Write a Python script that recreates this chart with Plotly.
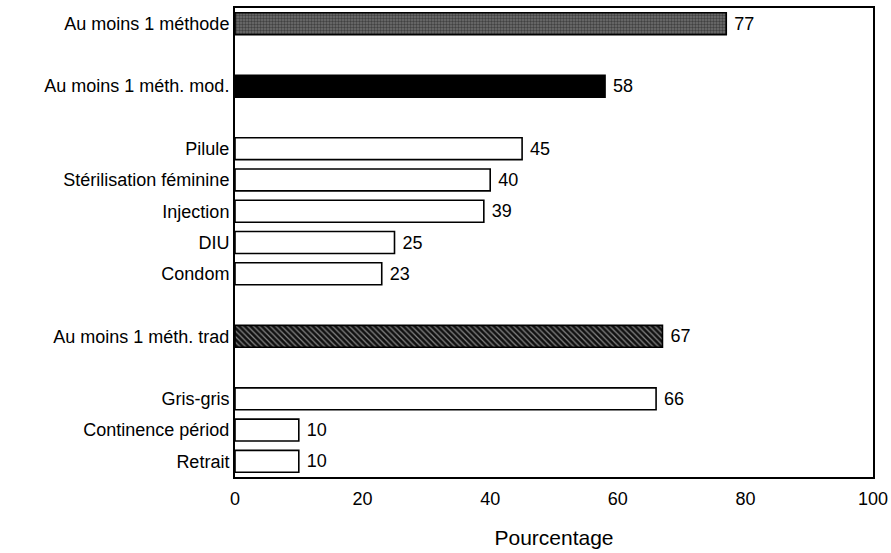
import plotly.graph_objects as go

categories = ["Au moins 1 méthode", "Au moins 1 méth. mod.", "Pilule",
              "Stérilisation féminine", "Injection", "DIU", "Condom",
              "Au moins 1 méth. trad", "Gris-gris", "Continence périod", "Retrait"]
values = [77, 58, 45, 40, 39, 25, 23, 67, 66, 10, 10]
groups = [1, 2, 3, 3, 3, 3, 3, 4, 5, 5, 5]
kinds = ["dots", "solid", "open", "open", "open", "open", "open", "hatch", "open", "open", "open"]
x_ticks = [0, 20, 40, 60, 80, 100]

# slot positions: one empty slot between groups
pos = []
p = 0
prev = groups[0]
for g in groups:
    if g != prev:
        p += 1
        prev = g
    pos.append(p)
    p += 1
n_slots = p

fig = go.Figure()
style = {
    "dots": dict(color="#ffffff", pattern=dict(shape=".", fgcolor="#111111", bgcolor="#707070", size=3, solidity=0.5)),
    "solid": dict(color="#000000"),
    "open": dict(color="#ffffff"),
    "hatch": dict(color="#ffffff", pattern=dict(shape="\\", fgcolor="#ffffff", bgcolor="#111111", size=4, solidity=0.3)),
}
for kind in ["dots", "solid", "open", "hatch"]:
    idx = [i for i, k in enumerate(kinds) if k == kind]
    st = style[kind]
    marker = dict(color=st["color"], line=dict(color="black", width=1.6))
    if "pattern" in st:
        marker["pattern"] = st["pattern"]
    fig.add_trace(go.Bar(
        x=[values[i] for i in idx], y=[pos[i] for i in idx], orientation="h",
        width=0.7, marker=marker,
        text=[str(values[i]) for i in idx], texttemplate=" %{text}",
        textposition="outside",
        textfont=dict(size=18, color="black"), cliponaxis=False,
        showlegend=False, hoverinfo="x+y"))

fig.update_layout(
    width=891, height=553, margin=dict(l=235, r=18, t=8, b=76, autoexpand=False),
    paper_bgcolor="white", plot_bgcolor="white",
    font=dict(family="Liberation Sans, Arial, sans-serif", size=18, color="black"),
    xaxis=dict(range=[0, 100], tickvals=x_ticks, showgrid=False, zeroline=False,
               showline=True, linecolor="black", linewidth=2, mirror=True,
               ticks="", tickfont=dict(size=18), automargin=False, ticklabelstandoff=4,
               title=dict(text="Pourcentage", font=dict(size=21), standoff=23)),
    yaxis=dict(range=[n_slots - 0.5, -0.5], tickvals=pos, ticktext=categories,
               showgrid=False, zeroline=False, showline=True, linecolor="black",
               linewidth=2, mirror=True, ticks="", tickfont=dict(size=18), automargin=False),
    bargap=0.3,
)
fig.write_html("out.html", config={"displayModeBar": False},
               post_script="document.body.style.margin='0';document.body.style.overflow='hidden';")
